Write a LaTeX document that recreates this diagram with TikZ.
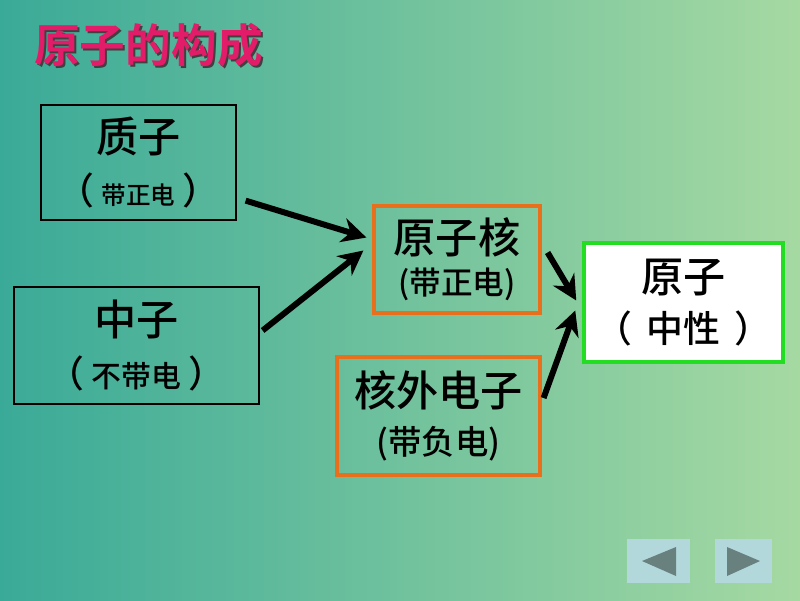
\documentclass[tikz,border=0pt]{standalone}
\usepackage{fontspec}
\newfontfamily\cjk[UprightFont=* Medium]{Noto Sans CJK SC}
\newfontfamily\cjkbold{Noto Sans CJK SC Bold}
\usetikzlibrary{arrows.meta,positioning}
\definecolor{bgleft}{RGB}{58,170,152}
\definecolor{bgright}{RGB}{166,217,162}
\definecolor{titlered}{RGB}{226,28,104}
\definecolor{boxorange}{RGB}{232,112,28}
\definecolor{boxgreen}{RGB}{34,221,34}
\definecolor{navfill}{RGB}{178,216,220}
\definecolor{navtip}{RGB}{104,128,126}

\begin{document}
\begin{tikzpicture}[
    x=0.02cm, y=-0.02cm,
    box/.style={draw, line width=0.7pt, align=center, inner sep=0pt, font=\cjk},
    hotbox/.style={box, draw=boxorange, line width=1.8pt},
    atombox/.style={box, draw=boxgreen, fill=white, line width=2pt},
    arrow/.style={->, line width=3.4pt},
    >={Stealth[length=14pt,width=14pt]}
]
% background
\shade[left color=bgleft, right color=bgright] (0,0) rectangle (800,600);
\useasboundingbox (0,0) rectangle (800,600);

% title
\node[font=\cjkbold\fontsize{26}{30}\selectfont, text=black!75] at (150.5,47.5) {原子的构成};
\node[font=\cjkbold\fontsize{26}{30}\selectfont, text=titlered] (title) at (148.5,45.5) {原子的构成};

% boxes
\node[box, minimum width=195*0.02cm, minimum height=115*0.02cm] (proton) at (138.5,162.5)
    {{\fontsize{24}{30}\selectfont 质子}\\[8pt]{\fontsize{21}{24}\selectfont （}\hspace{4pt}{\fontsize{14}{24}\selectfont 带正电}\hspace{4pt}{\fontsize{21}{24}\selectfont ）}};
\node[box, minimum width=245*0.02cm, minimum height=117*0.02cm] (neutron) at (136.5,345.5)
    {{\fontsize{24}{30}\selectfont 中子}\\[8pt]{\fontsize{21}{24}\selectfont （}\hspace{4pt}{\fontsize{17}{24}\selectfont 不带电}\hspace{4pt}{\fontsize{21}{24}\selectfont ）}};
\node[hotbox, minimum width=166*0.02cm, minimum height=107*0.02cm] (nucleus) at (457,259.5)
    {{\fontsize{24}{28}\selectfont 原子核}\\[5pt]{\fontsize{18}{22}\selectfont (带正电)}};
\node[hotbox, minimum width=203*0.02cm, minimum height=118*0.02cm] (electron) at (438.5,416)
    {{\fontsize{24}{28}\selectfont 核外电子}\\[8pt]{\fontsize{19}{22}\selectfont (带负电)}};
\node[atombox, minimum width=199*0.02cm, minimum height=119*0.02cm] (atom) at (683.5,302.5)
    {{\fontsize{24}{28}\selectfont 原子}\\[7pt]{\fontsize{21}{24}\selectfont （}\hspace{8pt}{\fontsize{21}{24}\selectfont 中性}\hspace{8pt}{\fontsize{21}{24}\selectfont ）}};

% arrows
\draw[arrow] ([shift={(9,-20)}]proton.south east) -- ([shift={(-6,-22)}]nucleus.west);
\draw[arrow] ([shift={(3,-15)}]neutron.east) -- ([shift={(-9,-9)}]nucleus.west);
\draw[arrow] ([shift={(6,-7)}]nucleus.east) -- ([shift={(-6,-2)}]atom.west);
\draw[arrow] ([shift={(2,-18)}]electron.east) -- ([shift={(-7,8)}]atom.west);

% navigation buttons
\fill[navfill] (627,539) rectangle (690,583);
\fill[navtip] (676,547) -- (676,576) -- (642,561) -- cycle;
\fill[navfill] (715,539) rectangle (772,583);
\fill[navtip] (727,547) -- (727,576) -- (760,561) -- cycle;
\end{tikzpicture}
\end{document}
